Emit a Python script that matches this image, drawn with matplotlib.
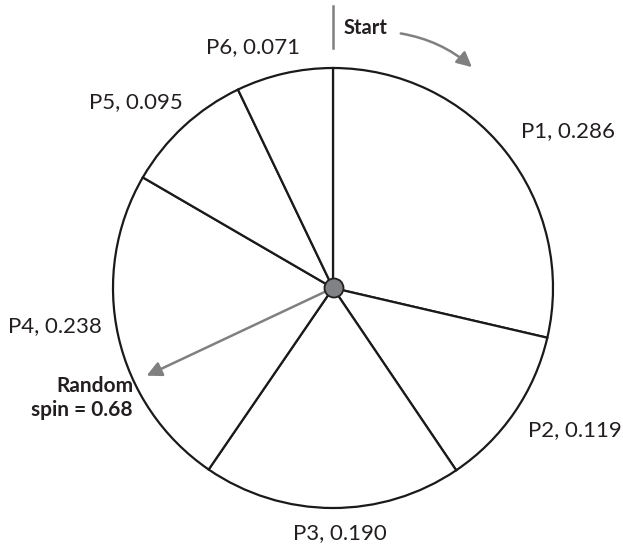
import numpy as np
import matplotlib
matplotlib.use("Agg")
import matplotlib.pyplot as plt
from matplotlib.patches import Circle, FancyArrowPatch

plt.rcParams['font.family'] = ['Lato', 'DejaVu Sans']

# Spinner slices and probabilities
labels = ["P1", "P2", "P3", "P4", "P5", "P6"]
probs = [0.286, 0.119, 0.190, 0.238, 0.095, 0.071]
spin = 0.68

W, H = 623, 546
fig = plt.figure(figsize=(W / 100, H / 100), dpi=100)
ax = fig.add_axes([0, 0, 1, 1])

cx, cy, R = 333, H - 288, 220

ax.pie(probs, startangle=90, counterclock=False, center=(cx, cy), radius=R,
       colors=["white"] * len(probs),
       wedgeprops=dict(edgecolor="#1a1a1a", linewidth=1.6))

# Slice labels placed outside the wheel
label_pos = [(615, 131, "right"), (622, 430, "right"), (340, 533, "center"),
             (102, 326, "right"), (183, 102, "right"), (300, 47, "right")]
for lab, p, (x, y, ha) in zip(labels, probs, label_pos):
    ax.text(x, H - y, f"{lab}, {p:.3f}", ha=ha, va="center", fontsize=16,
            color="#231f20")

# Spin arrow from the hub
ang = np.deg2rad(90 - spin * 360)
L = 206
ax.add_patch(FancyArrowPatch((cx, cy), (cx + L * np.cos(ang), cy + L * np.sin(ang)),
                             arrowstyle="-|>,head_length=9,head_width=4.5",
                             color="#808080", lw=1.8, shrinkA=0, shrinkB=0,
                             mutation_scale=1, zorder=4))

# Hub
ax.add_patch(Circle((cx + 1, cy), 9.5, facecolor="#808285", edgecolor="#231f20",
                    lw=1.3, zorder=5))

# Start marker
ax.plot([333, 333], [H - 6, H - 48], color="#808080", lw=1.8)
ax.text(366, H - 28, "Start", ha="center", va="center", fontsize=14.5,
        fontweight="bold", color="#231f20")
ax.add_patch(FancyArrowPatch((398, H - 33), (474, H - 69),
                             connectionstyle="arc3,rad=-0.15",
                             arrowstyle="-|>,head_length=9,head_width=4.5",
                             color="#808080", lw=1.8, mutation_scale=1))

ax.text(133, H - 398, "Random\nspin = 0.68", ha="right", va="center",
        fontsize=15, fontweight="bold", color="#231f20", linespacing=1.25)

ax.set_xlim(0, W)
ax.set_ylim(0, H)
ax.set_aspect("auto")
ax.axis("off")

fig.savefig("out.png", dpi=100, facecolor="white")
